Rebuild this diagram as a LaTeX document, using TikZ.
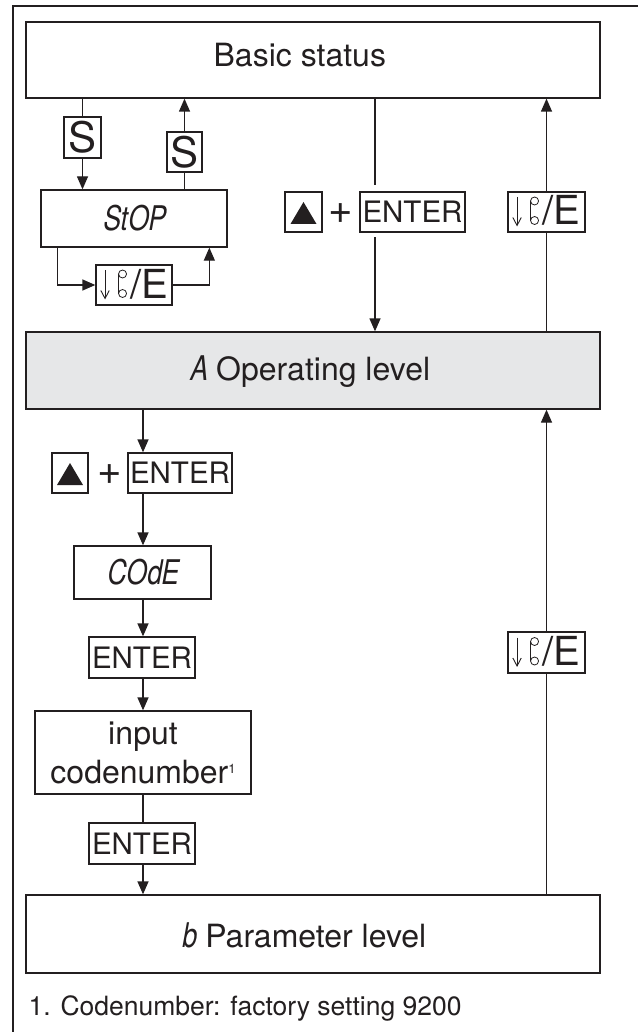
\documentclass[tikz,border=0pt]{standalone}
\usepackage{fontspec}
\setmainfont{TeX Gyre Heros}
\newfontfamily\segfont[FakeSlant=0.18,FakeStretch=0.78]{TeX Gyre Heros}
\usetikzlibrary{arrows.meta,calc}
\definecolor{ink}{HTML}{231F20}
\definecolor{panel}{HTML}{E6E7E8}
\newcommand\bigfont{\fontsize{32}{39}\selectfont}
\newcommand\keyfont{\fontsize{29.5}{30}\selectfont}
\newcommand\keyglyphs[1]{%
  \draw[line width=0.9pt] ($(#1.west)+(9.7,-15)$) -- ($(#1.west)+(9.7,13)$);
  \draw[line width=0.9pt] ($(#1.west)+(5.5,5.5)$) -- ($(#1.west)+(9.7,13.5)$) -- ($(#1.west)+(13.9,5.5)$);
  \draw[line width=0.8pt] ($(#1.west)+(27.2,-11)$) circle (4);
  \draw[line width=0.8pt] ($(#1.west)+(27.2,8.5)$) circle (4);
  \draw[line width=0.8pt] ($(#1.west)+(23.2,-11)$) -- ($(#1.west)+(23.2,8.5)$);
  \node[anchor=base west, inner sep=0pt, font=\fontsize{40}{40}\selectfont] (#1t) at ($(#1.west)+(34.5,13)$) {/E};
}
\newcommand\tri[1]{%
  \fill ($(#1.center)+(-13,12)$) -- ($(#1.center)+(13,12)$) -- ($(#1.center)+(0,-10)$) -- cycle;
}
\begin{document}
\begin{tikzpicture}[x=1pt,y=-1pt,color=ink,line width=1.3pt,
  box/.style={draw, inner sep=0pt},
  level/.style={box, minimum width=574pt},
  lvltext/.style={anchor=base west, inner sep=0pt, font=\bigfont},
  keybox/.style={box, minimum height=40pt, font=\keyfont},
  seg/.style={font=\segfont\fontsize{34}{34}\selectfont},
  arr/.style={-{Triangle[length=13pt,width=11pt]}}]
\useasboundingbox (0,0) rectangle (637,1032);
\fill[white] (0,0) rectangle (637,1032);
% frame
\draw[line width=2pt] (640,6) -- (13,6) -- (13,1035);
% level boxes
\node[level, minimum height=76pt] (basic) at (313,60) {};
\node[lvltext] (basict) at (213,67) {Basic status};
\node[level, minimum height=77pt, fill=panel] (op) at (313,370.5) {};
\node[lvltext] (opt) at (189,380) {{\segfont\fontsize{34}{34}\selectfont A} Operating level};
\node[level, minimum height=78pt] (param) at (313,934) {};
\node[lvltext] (paramt) at (181,947) {{\segfont\fontsize{34}{34}\selectfont b} Parameter level};
% stop branch
\node[box, minimum width=186pt, minimum height=57pt, seg] (stop) at (134,218.5) {StOP};
\node[keybox, minimum width=37pt, minimum height=41pt, font=\fontsize{42}{42}\selectfont] (s1) at (82.5,137.5) {S};
\node[keybox, minimum width=35pt, font=\fontsize{42}{42}\selectfont] (s2) at (184.5,152) {S};
\node[keybox, minimum width=76pt] (k0) at (134,285) {};
\keyglyphs{k0}
% middle keys
\node[keybox, minimum width=37pt] (tri1) at (303.5,212) {};
\tri{tri1}
\node[inner sep=0pt, font=\fontsize{42}{42}\selectfont] (plus1) at (341,214) {+};
\node[keybox, minimum width=105pt] (enter1) at (412.5,212) {ENTER};
\node[keybox, minimum width=77pt] (k1) at (546.5,212) {};
\keyglyphs{k1}
% lower chain
\node[keybox, minimum width=36pt] (tri2) at (70,473) {};
\tri{tri2}
\node[inner sep=0pt, font=\fontsize{42}{42}\selectfont] (plus2) at (109.5,475) {+};
\node[keybox, minimum width=104pt] (enter2) at (180,473) {ENTER};
\node[box, minimum width=137pt, minimum height=53pt, seg] (code) at (142.5,572.5) {COdE};
\node[keybox, minimum width=106pt, minimum height=41pt] (enter3) at (142,657.5) {ENTER};
\node[box, minimum width=216pt, minimum height=83pt, align=center, font=\bigfont] (input) at (143,752.5) {input\\codenumber\raisebox{10pt}{\fontsize{13}{13}\selectfont 1}};
\node[keybox, minimum width=106pt, minimum height=41pt] (enter4) at (142,843.5) {ENTER};
\node[keybox, minimum width=77pt, minimum height=41pt] (k2) at (546.5,652.5) {};
\keyglyphs{k2}
% footnote
\node[anchor=base west, inner sep=0pt, font=\fontsize{26.5}{30}\selectfont] (foot) at (28,1015) {1. Codenumber: factory setting 9200};
% connectors: stop branch
\draw (s1.north |- basic.south) -- (s1.north);
\draw[arr] (s1.south) -- (s1.south |- stop.north);
\draw (s2.south |- stop.north) -- (s2.south);
\draw[arr] (s2.north) -- (s2.north |- basic.south);
\coordinate (lpA) at ($(stop.south west)+(17,0)$);
\coordinate (lpB) at ($(stop.south west)+(169,0)$);
\draw[arr] (lpA) |- (k0.west);
\draw[arr] (k0.east) -| (lpB);
% middle
\coordinate (m1) at (375,185);
\coordinate (m2) at (375,237);
\draw (m1 |- basic.south) -- (m1);
\draw[arr] (m2) -- (m2 |- op.north);
\draw (k1.south |- op.north) -- (k1.south);
\draw[arr] (k1.north) -- (k1.north |- basic.south);
% lower
\coordinate (lx) at (143,0);
\draw[arr] (lx |- op.south) -- (lx |- enter2.north);
\draw[arr] (lx |- enter2.south) -- (lx |- code.north);
\draw[arr] (lx |- code.south) -- (lx |- enter3.north);
\draw[arr] (lx |- enter3.south) -- (lx |- input.north);
\draw (lx |- input.south) -- (lx |- enter4.north);
\draw[arr] (lx |- enter4.south) -- (lx |- param.north);
\draw (k2.south |- param.north) -- (k2.south);
\draw[arr] (k2.north) -- (k2.north |- op.south);
\end{tikzpicture}
\end{document}
